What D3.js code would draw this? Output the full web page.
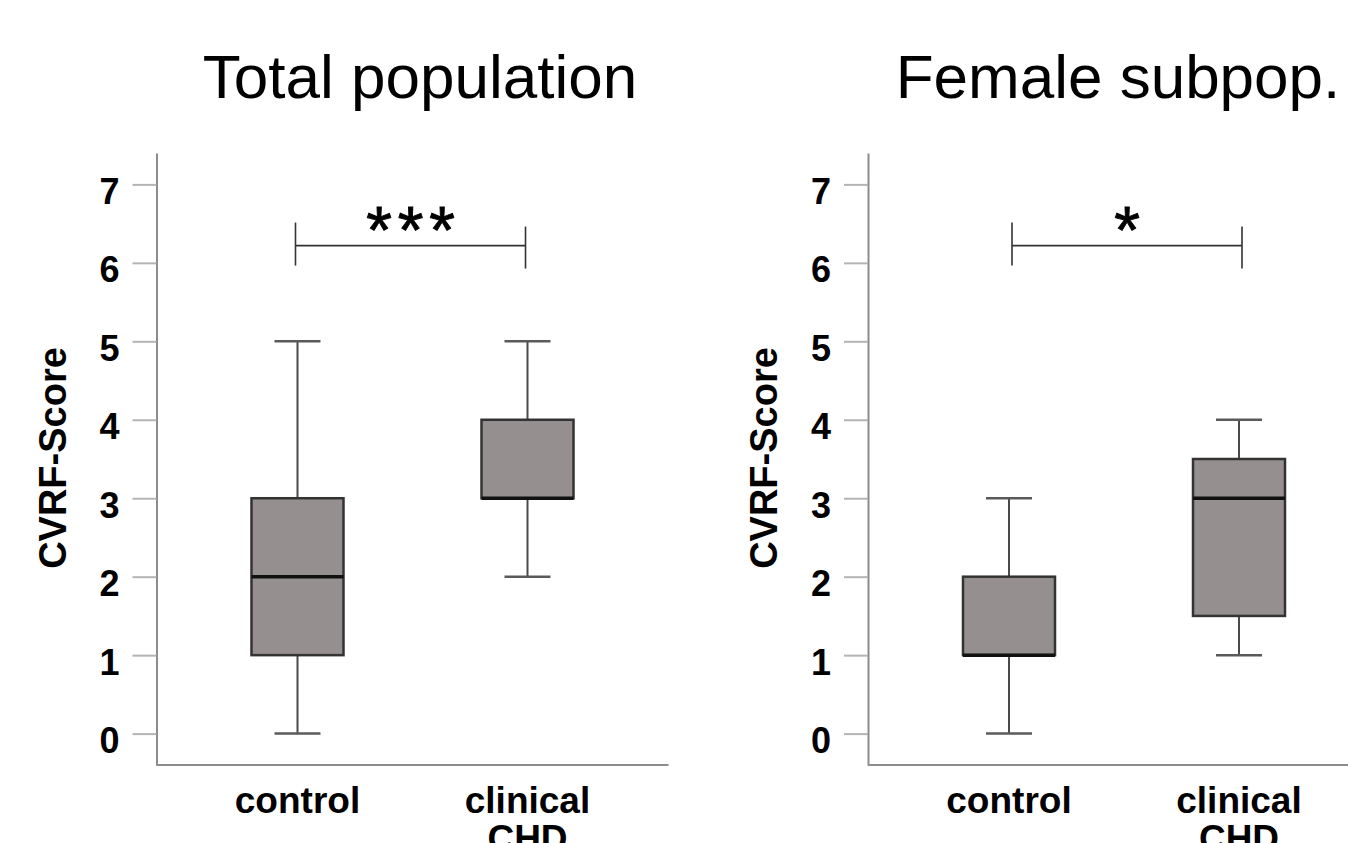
<!DOCTYPE html>
<html>
<head>
<meta charset="utf-8">
<script src="https://cdn.jsdelivr.net/npm/d3@7"></script>
<style>
  body { margin: 0; background: #fff; }
  svg { display: block; font-family: "Liberation Sans", Arial, sans-serif; }
</style>
</head>
<body>
<svg id="chart" width="1348" height="843"></svg>
<script>
"use strict";

// categories and titles
const categories = ["control", "clinical CHD"];
const categoryLines = [["control"], ["clinical", "CHD"]];
const panelTitles = ["Total population", "Female subpop."];
const yTicks = [0, 1, 2, 3, 4, 5, 6, 7];

// box plot statistics, total population
const totalMin = [0, 2];
const totalQ1 = [1, 3];
const totalMedian = [2, 3];
const totalQ3 = [3, 4];
const totalMax = [5, 5];

// box plot statistics, female subpopulation
const femaleMin = [0, 1];
const femaleQ1 = [1, 1.5];
const femaleMedian = [1, 3];
const femaleQ3 = [2, 3.5];
const femaleMax = [3, 4];

// significance markers and bracket level
const significance = ["***", "*"];
const bracketLevel = 6.22;

const svg = d3.select("#chart");

// build the rows for each panel
function rows(mins, q1s, meds, q3s, maxs) {
    return categories.map((c, i) => ({
        cat: c, lines: categoryLines[i],
        min: mins[i], q1: q1s[i], median: meds[i], q3: q3s[i], max: maxs[i]
    }));
}

const panels = [
    { x0: 156.5, titleX: 420, data: rows(totalMin, totalQ1, totalMedian, totalQ3, totalMax), title: panelTitles[0], sig: significance[0], sigShift: -2 },
    { x0: 868, titleX: 1118, data: rows(femaleMin, femaleQ1, femaleMedian, femaleQ3, femaleMax), title: panelTitles[1], sig: significance[1], sigShift: 3 }
];

const plotW = 512, yTop = 153, yBottom = 765;

// same y scale for both panels
const y = d3.scaleLinear().domain([-0.4, 7.4]).range([yBottom, yTop]);

panels.forEach(p => {
    const g = svg.append("g").attr("transform", `translate(${p.x0},0)`);

    const x = d3.scalePoint().domain(categories).range([0, plotW]).padding(0.613);
    const boxW = x.step() * 0.4;

    // title
    svg.append("text")
        .attr("x", p.titleX).attr("y", 98)
        .attr("text-anchor", "middle")
        .style("font-size", "62px")
        .text(p.title);

    // y axis
    const yAxis = g.append("g")
        .call(d3.axisLeft(y).tickValues(yTicks).tickSize(24).tickSizeOuter(0).tickPadding(13));
    yAxis.select(".domain").attr("stroke", "#8c8c8c").attr("stroke-width", 2);
    yAxis.selectAll(".tick line").attr("stroke", "#b4b4b4").attr("stroke-width", 2);
    yAxis.selectAll(".tick text")
        .attr("dy", "19px")
        .attr("fill", "#000")
        .style("font-size", "36px")
        .style("font-weight", "bold")
        .style("font-family", "'Liberation Sans', Arial, sans-serif");

    // x axis line
    g.append("line")
        .attr("x1", 0).attr("x2", plotW)
        .attr("y1", yBottom).attr("y2", yBottom)
        .attr("stroke", "#8c8c8c").attr("stroke-width", 2);

    // y axis title
    g.append("text")
        .attr("transform", `translate(-91,${(yTop + yBottom) / 2 - 1}) rotate(-90)`)
        .attr("text-anchor", "middle")
        .style("font-size", "38px")
        .style("font-weight", "bold")
        .text("CVRF-Score");

    // category labels
    p.data.forEach(d => {
        const t = g.append("text")
            .attr("text-anchor", "middle")
            .style("font-size", "37px")
            .style("font-weight", "bold");
        d.lines.forEach((ln, j) => {
            t.append("tspan").attr("x", x(d.cat)).attr("y", 813 + j * 38).text(ln);
        });
    });

    // whiskers
    const box = g.selectAll(".box").data(p.data).enter().append("g").attr("class", "box");
    box.append("line")
        .attr("x1", d => x(d.cat)).attr("x2", d => x(d.cat))
        .attr("y1", d => y(d.max)).attr("y2", d => y(d.q3))
        .attr("stroke", "#4a4a4a").attr("stroke-width", 2);
    box.append("line")
        .attr("x1", d => x(d.cat)).attr("x2", d => x(d.cat))
        .attr("y1", d => y(d.q1)).attr("y2", d => y(d.min))
        .attr("stroke", "#4a4a4a").attr("stroke-width", 2);
    box.selectAll(".cap").data(d => [[d.cat, d.min], [d.cat, d.max]]).enter().append("line")
        .attr("class", "cap")
        .attr("x1", d => x(d[0]) - boxW / 4).attr("x2", d => x(d[0]) + boxW / 4)
        .attr("y1", d => y(d[1])).attr("y2", d => y(d[1]))
        .attr("stroke", "#5a5a5a").attr("stroke-width", 2.5);

    // boxes
    box.append("rect")
        .attr("x", d => x(d.cat) - boxW / 2)
        .attr("y", d => y(d.q3))
        .attr("width", boxW)
        .attr("height", d => y(d.q1) - y(d.q3))
        .attr("fill", "#95908f")
        .attr("stroke", "#333").attr("stroke-width", 2.5);

    // medians
    box.append("line")
        .attr("x1", d => x(d.cat) - boxW / 2).attr("x2", d => x(d.cat) + boxW / 2)
        .attr("y1", d => y(d.median)).attr("y2", d => y(d.median))
        .attr("stroke", "#111").attr("stroke-width", 3.5);

    // significance bracket
    const bx1 = x(categories[0]) + p.sigShift, bx2 = x(categories[1]) + p.sigShift;
    const by = y(bracketLevel);
    const br = g.append("g").attr("stroke", "#333").attr("stroke-width", 1.6);
    br.append("line").attr("x1", bx1).attr("x2", bx2).attr("y1", by).attr("y2", by);
    br.append("line").attr("x1", bx1).attr("x2", bx1).attr("y1", by - 23).attr("y2", by + 20);
    br.append("line").attr("x1", bx2).attr("x2", bx2).attr("y1", by - 19).attr("y2", by + 23);

    // stars, drawn one by one so the spacing matches
    const starPitch = 31.5;
    const stars = p.sig.split("");
    g.selectAll(".star").data(stars).enter().append("text")
        .attr("class", "star")
        .attr("x", (d, i) => (bx1 + bx2) / 2 + (i - (stars.length - 1) / 2) * starPitch)
        .attr("y", by + 7)
        .attr("text-anchor", "middle")
        .attr("stroke", "#000").attr("stroke-width", 0.9)
        .style("font-size", "66px")
        .text(d => d);
});
</script>
</body>
</html>
